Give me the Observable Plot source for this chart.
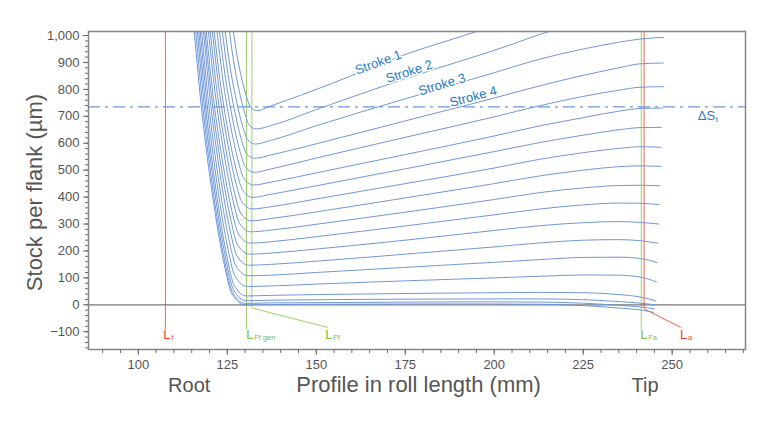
<!DOCTYPE html>
<html>
<head>
<meta charset="utf-8">
<script src="https://cdn.jsdelivr.net/npm/d3@7"></script>
<script src="https://cdn.jsdelivr.net/npm/@observablehq/plot@0.6"></script>
<style>
  html, body { margin: 0; padding: 0; background: #fff; }
</style>
</head>
<body>
<div id="chart"></div>
<script>
// ---- Data ----
const xTicks = [100, 125, 150, 175, 200, 225, 250];
const xMinorTicks = [90,95,100,105,110,115,120,125,130,135,140,145,150,155,160,165,170,175,180,185,190,195,200,205,210,215,220,225,230,235,240,245,250,255,260,265,270];
const yTicks = [-100, 0, 100, 200, 300, 400, 500, 600, 700, 800, 900, 1000];
const yMinorTicks = [-160,-140,-120,-100,-80,-60,-40,-20,0,20,40,60,80,100,120,140,160,180,200,220,240,260,280,300,320,340,360,380,400,420,440,460,480,500,520,540,560,580,600,620,640,660,680,700,720,740,760,780,800,820,840,860,880,900,920,940,960,980,1000];

// stock curves: [profile position mm, stock µm]
const c1  = [[126.7,1015],[127.72,926.8],[129.08,838.6],[130.58,765.1],[131.6,732.8],[133.3,721],[137.1,738],[154,820],[174,925],[195,1015],[205,1060]];
const c2  = [[125.6,1015],[126.75,906.4],[128.3,797.8],[130.0,707.3],[131.15,667.5],[133.1,653],[137.1,665],[150,725],[175,840],[204.5,965],[213,1005],[225,1050]];
const c3  = [[124.4,1015],[125.71,889.6],[127.46,764.2],[129.39,659.7],[130.7,613.7],[132.9,597],[137.1,610],[150,665],[175,765],[200,862],[213,913],[225,950],[235,975],[241,987],[247.5,993]];
const c4  = [[123.6,1015],[125.0,873.7],[126.88,732.4],[128.94,614.7],[130.34,562.8],[132.7,544],[137.1,556],[150,598],[175,683],[200,768],[213,814],[225,852],[235,880],[241,895],[247.5,898]];
const c5  = [[122.8,1015],[124.31,858.1],[126.33,701.2],[128.55,570.5],[130.06,512.9],[132.6,492],[137.1,504],[150,545],[175,622],[200,698],[213,740],[225,774],[235,797],[241,808],[247.5,810]];
const c6  = [[122.1,1015],[123.68,844],[125.81,673],[128.15,530.5],[129.73,467.8],[132.4,445],[137.1,455],[150,490],[175,558],[200,627],[213,665],[225,695],[235,719],[241,729],[247.3,731]];
const c7  = [[121.3,1015],[122.98,830.2],[125.22,645.4],[127.7,491.4],[129.38,423.6],[132.2,399],[137.1,410],[150,442],[175,505],[200,569],[213,603],[225,630],[235,650],[241,658],[247,659]];
const c8  = [[120.8,1015],[122.52,817.3],[124.83,619.6],[127.38,454.9],[129.1,382.4],[132.0,356],[137.1,364],[150,393],[175,450],[200,508],[213,541],[225,565],[235,581],[241,587],[246.8,585]];
const c9  = [[120.2,1015],[121.98,804.1],[124.38,593.2],[127.01,417.5],[128.8,340.1],[131.8,312],[137.1,320],[150,345],[175,397],[200,450],[213,479],[225,500],[235,513],[241,516],[246.8,514]];
const c10 = [[119.7,1015],[121.53,791.8],[123.99,568.6],[126.69,382.6],[128.52,300.8],[131.6,271],[137.1,277],[150,299],[175,344],[200,391],[213,417],[225,434],[235,443],[241,444],[246.5,442]];
const c11 = [[119.1,1015],[120.99,779.2],[123.53,543.4],[126.32,346.9],[128.22,260.4],[131.4,229],[137.1,234],[150,253],[175,293],[200,334],[213,356],[225,371],[235,378],[241,377],[246.3,372]];
const c12 = [[118.7,1015],[120.62,766.9],[123.2,518.8],[126.04,312.1],[127.96,221.1],[131.2,188],[137.1,192],[150,207],[175,240],[200,276],[213,294],[225,305],[235,309],[241,306],[246.2,300]];
const c13 = [[118.3,1015],[120.25,754.6],[122.87,494.2],[125.76,277.2],[127.71,181.7],[131.0,147],[137.1,150],[150,162],[175,188],[200,215],[213,230],[225,240],[235,242],[241,238],[246,229]];
const c14 = [[117.8,1015],[119.8,742.9],[122.48,470.8],[125.44,244.1],[127.44,144.3],[130.8,108],[137.1,110],[150,120],[175,139],[200,158],[213,168],[225,176],[235,177],[241,172],[245.8,157]];
const c15 = [[117.4,1015],[119.43,730.9],[122.15,446.8],[125.15,210.1],[127.18,105.9],[130.6,68],[137.1,70],[150,77],[175,89],[200,100],[213,106],[225,111],[235,110],[241,103],[245.6,85]];
const c16 = [[117.0,1015],[119.06,720.4],[121.83,425.8],[124.87,180.3],[126.93,72.3],[130.4,33],[137.1,35],[150,38],[175,42],[200,45],[213,46],[225,45],[235,38],[241,29],[245.4,15]];
const c17 = [[116.6,1015],[118.71,715],[121.53,415],[124.65,165],[126.75,55],[130.3,15],[137.1,17],[150,19],[175,21],[200,22],[213,22],[225,19],[235,12],[241,6],[245.2,0]];
const c18 = [[116.15,1015],[118.3,712],[121.18,409],[124.35,156.5],[126.5,45.4],[130.1,5],[137.1,7],[150,8],[175,10],[200,11],[213,10],[225,6],[235,-2],[241,-8],[245,-15]];
const c19 = [[115.7,1015],[117.9,710.5],[120.85,406],[124.1,152.3],[126.3,40.6],[130.0,0],[137.1,1],[150,2],[175,3],[200,3],[213,2],[225,-3],[235,-12],[241,-19],[244.8,-28]];
const curves = [c1,c2,c3,c4,c5,c6,c7,c8,c9,c10,c11,c12,c13,c14,c15,c16,c17,c18,c19];

// stroke labels
const strokeLabels = ["Stroke 1", "Stroke 2", "Stroke 3", "Stroke 4"];
const strokeLabelX = [167.4, 176.1, 185.3, 194.1];
const strokeLabelY = [900, 866, 818, 773];
const strokeLabelAngle = [-20, -18, -16.5, -15];

// tolerance line ΔSt
const deltaSt = 735;

// reference positions
const refSub = ["f", "Ff gen", "Ff", "Fa", "a"];
const refX = [107.6, 130.4, 131.9, 241.3, 242.1];
const refBottom = [-92, -92, -12, -94, -15];
const refKind = ["red", "green", "green", "green", "red"];
const refLabelX = [107.0, 130.3, 152.5, 241.0, 252.2];
const refLabelY = -112;
const leaderFromX = [131.9, 242.1];
const leaderFromY = [-12, -15];
const leaderToX = [153.2, 252.4];
const leaderToY = [-84, -84];
const leaderKind = ["green", "red"];

// axis texts
const yTitle = "Stock per flank (µm)";
const xTitle = "Profile in roll length (mm)";
const xSideLabels = ["Root", "Tip"];
const xSideLabelX = [114.3, 242.4];

// ---- Styles ----
const curveColor = "#7097d9";
const textBlue = "#1f7ccc";
const lineColor = {red: "#ff5e42", green: "#9fd06c"};
const labelColor = {red: "#ff3c1e", green: "#76c043"};
const axisGray = "#6b6b6b";
const textGray = "#555555";
const font = "'Liberation Sans', Arial, Helvetica, sans-serif";

const refRows = refX.map((x, i) => ({x, bottom: refBottom[i], kind: refKind[i], lx: refLabelX[i], sub: refSub[i]}));
const leaderRows = leaderFromX.map((x, i) => ({x1: x, y1: leaderFromY[i], x2: leaderToX[i], y2: leaderToY[i], kind: leaderKind[i]}));
const strokeRows = strokeLabels.map((t, i) => ({t, x: strokeLabelX[i], y: strokeLabelY[i], a: strokeLabelAngle[i]}));

const marks = [];
// reference verticals
marks.push(Plot.ruleX(refRows, {x: "x", y1: "bottom", y2: 1015, stroke: d => lineColor[d.kind], strokeWidth: 1}));
marks.push(Plot.link(leaderRows, {x1: "x1", y1: "y1", x2: "x2", y2: "y2", stroke: d => lineColor[d.kind], strokeWidth: 1}));
// ΔSt dash-dot line
marks.push(Plot.ruleY([deltaSt], {stroke: "#6f95d8", strokeWidth: 1.2, strokeDasharray: "12,5,3,5"}));
// zero line
marks.push(Plot.ruleY([0], {stroke: "#7a7a7a", strokeWidth: 1.2}));
// curves
for (const c of curves) {
  marks.push(Plot.line(c, {x: d => d[0], y: d => d[1], curve: "monotone-x", stroke: curveColor, strokeWidth: 1, clip: true}));
}
// stroke labels
marks.push(Plot.text(strokeRows, {x: "x", y: "y", text: "t", rotate: "a", fill: textBlue, fontSize: 13, stroke: "white", strokeWidth: 3, paintOrder: "stroke"}));
// ΔSt label
marks.push(Plot.text(["ΔS"], {x: 257.2, y: 703, text: d => d, textAnchor: "start", fill: textBlue, fontSize: 13}));
marks.push(Plot.text(["t"], {x: 257.2, y: 703, text: d => d, textAnchor: "start", dx: 18, dy: 4, fill: textBlue, fontSize: 8}));
// reference labels
marks.push(Plot.text(refRows, {x: "lx", y: refLabelY, text: () => "L", textAnchor: "start", fill: d => labelColor[d.kind], fontSize: 13}));
marks.push(Plot.text(refRows, {x: "lx", y: refLabelY, text: "sub", textAnchor: "start", dx: 8, dy: 3, fill: d => labelColor[d.kind], fontSize: 7.5}));
// frame
marks.push(Plot.frame({stroke: "#858585", strokeWidth: 1.5}));
// axes
marks.push(Plot.axisX(xMinorTicks, {tickSize: 4, tickFormat: () => "", stroke: axisGray, label: null}));
marks.push(Plot.axisX(xTicks, {tickSize: 6, tickPadding: 4, tickFormat: d => String(d), stroke: axisGray, fill: textGray, fontSize: 13, label: null}));
marks.push(Plot.axisY(yMinorTicks, {tickSize: 3, tickFormat: () => "", stroke: axisGray, label: null}));
marks.push(Plot.axisY(yTicks, {tickSize: 5, tickPadding: 4, tickFormat: d3.format(","), stroke: axisGray, fill: textGray, fontSize: 13, label: null}));
// titles
marks.push(Plot.text([yTitle], {frameAnchor: "left", y: 417, text: d => d, rotate: -90, textAnchor: "middle", dx: -54, fill: textGray, fontSize: 22}));
marks.push(Plot.text([xTitle], {frameAnchor: "bottom", x: 144.4, text: d => d, textAnchor: "start", dy: 42, fill: textGray, fontSize: 22}));
marks.push(Plot.text(xSideLabels.map((t, i) => ({t, x: xSideLabelX[i]})), {frameAnchor: "bottom", x: "x", text: "t", textAnchor: "middle", dy: 42, fill: textGray, fontSize: 20}));

const chart = Plot.plot({
  width: 774,
  height: 432,
  marginLeft: 88,
  marginRight: 29,
  marginTop: 31,
  marginBottom: 83,
  x: {domain: [86, 270.6], axis: null},
  y: {domain: [-166, 1015], axis: null},
  style: {fontFamily: font, fontSize: "13px", color: textGray, background: "white"},
  marks
});
document.getElementById("chart").appendChild(chart);
</script>
</body>
</html>
